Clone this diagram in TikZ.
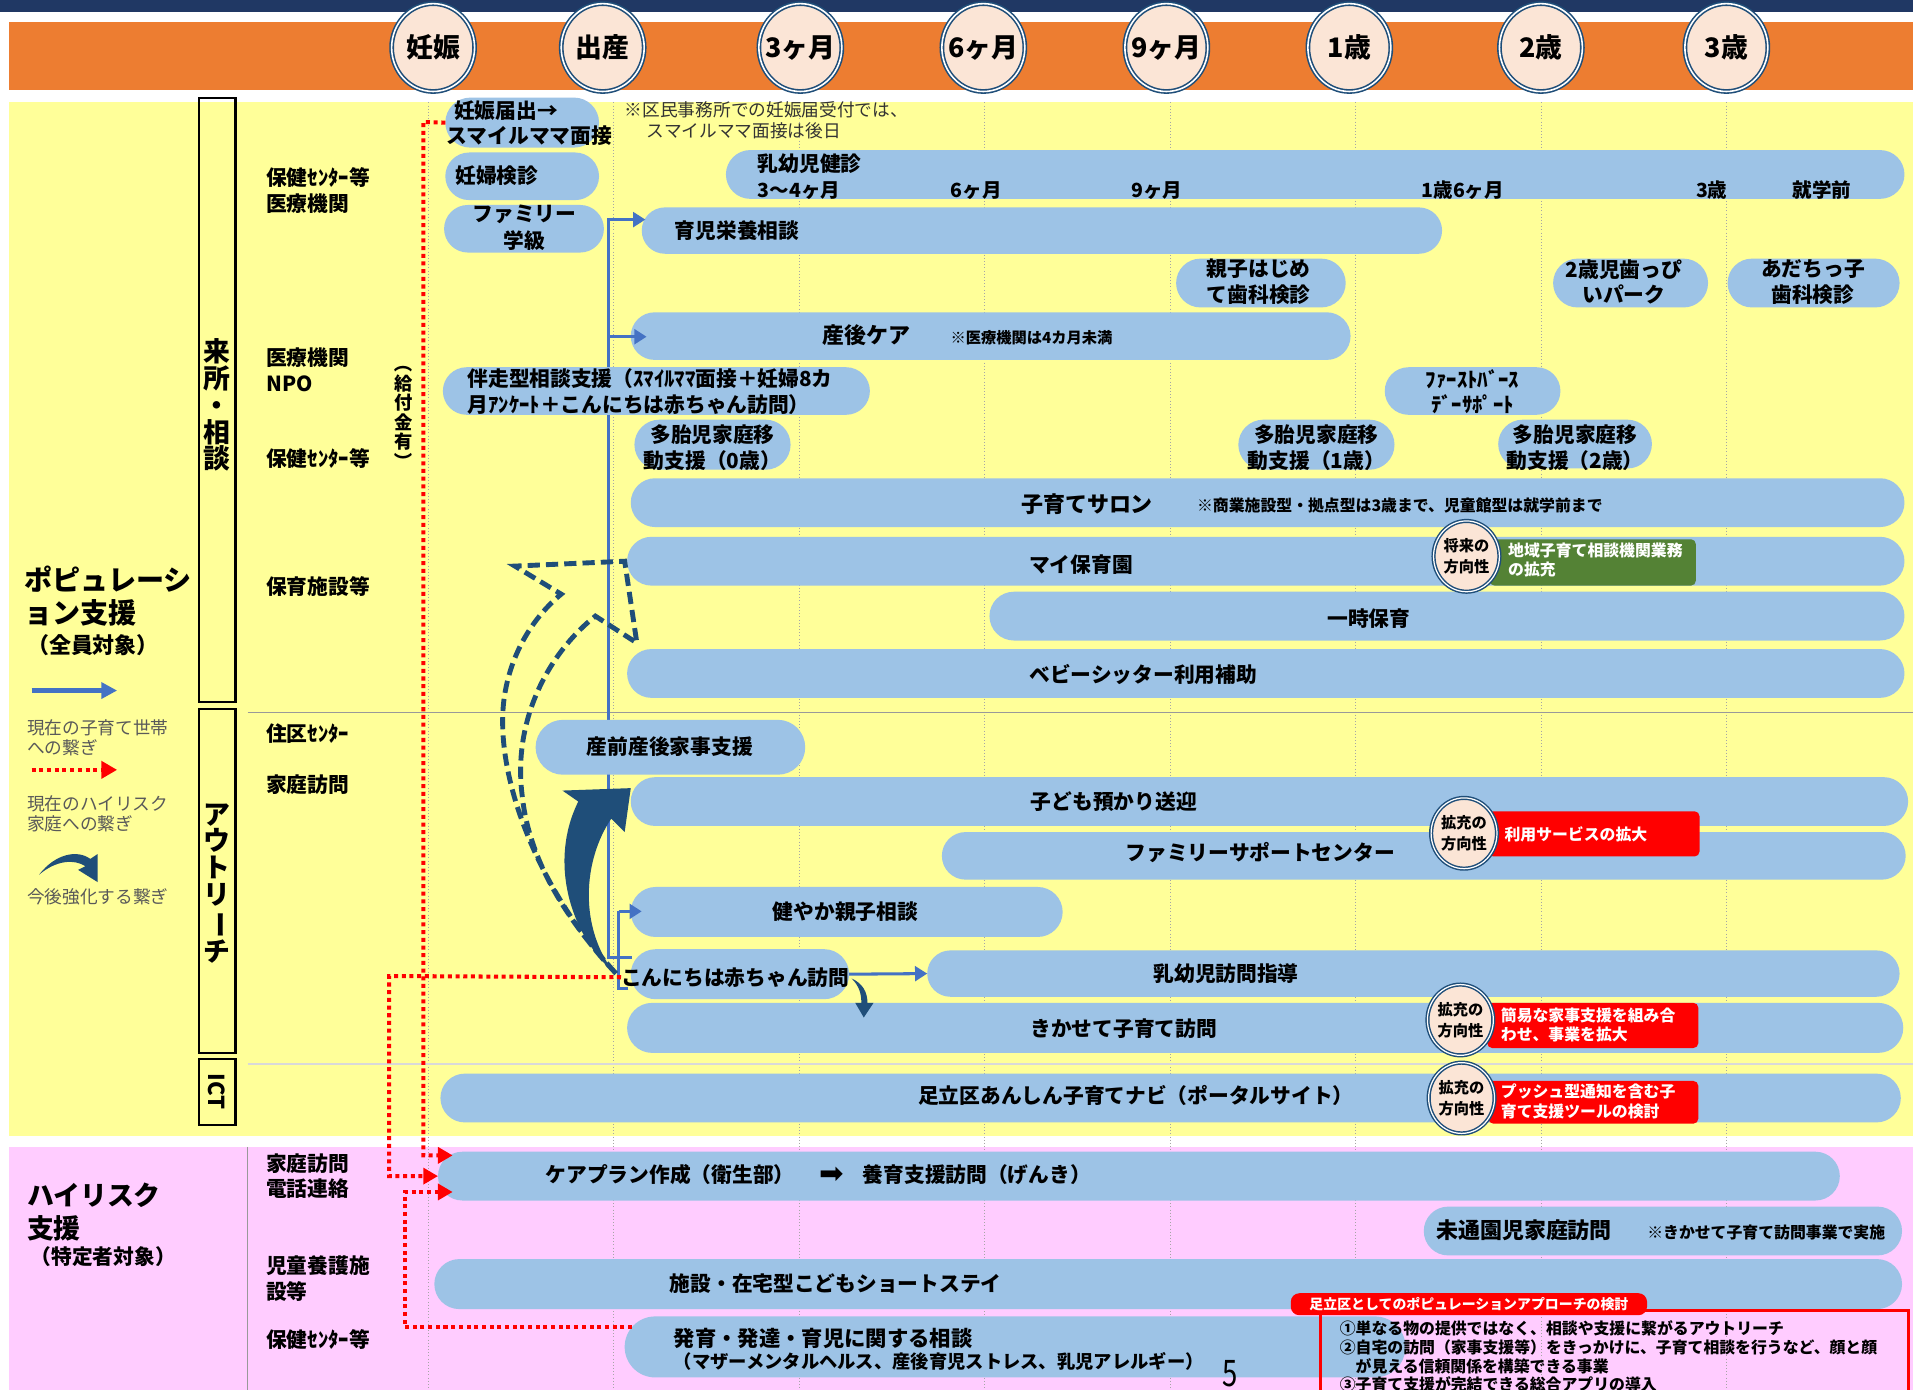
\documentclass[tikz,border=0pt]{standalone}
\usepackage{fontspec}
\usepackage{graphicx}
\setmainfont{Noto Sans CJK JP}
\newfontfamily\dejavu{DejaVu Sans}
\usetikzlibrary{arrows.meta,calc,shapes.geometric}
\definecolor{navybar}{HTML}{203864}
\definecolor{orng}{HTML}{ED7D31}
\definecolor{ylw}{HTML}{FFFF99}
\definecolor{pnk}{HTML}{FFCCFF}
\definecolor{pillc}{HTML}{9DC3E6}
\definecolor{peach}{HTML}{FBE5D6}
\definecolor{ringc}{HTML}{1F4E79}
\definecolor{bluel}{HTML}{4472C4}
\definecolor{grn}{HTML}{548235}
\definecolor{gridc}{HTML}{A6A6A6}
\definecolor{legtxt}{HTML}{595959}
\newcommand\myfs[1]{\fontsize{#1}{#1}\selectfont}
\newcommand\pillbox[5]{%
  \pgfmathsetmacro\pbx{(#2+#4)/2}%
  \pgfmathsetmacro\pby{(#3+#5)/2}%
  \pgfmathsetmacro\pbw{#4-#2}%
  \pgfmathsetmacro\pbh{#5-#3}%
  \pgfmathsetmacro\pbr{(#5-#3)/2}%
  \node[pill, minimum width=\pbw pt, minimum height=\pbh pt, rounded corners=\pbr pt] (#1) at (\pbx,\pby) {};}
\tikzset{
  pill/.style={fill=pillc, inner sep=0pt, outer sep=0pt},
  bt/.style={font=\bfseries\fontsize{17}{21}\selectfont, inner sep=0pt, align=left},
  btc/.style={bt, align=center},
  note/.style={font=\bfseries\fontsize{12.5}{15}\selectfont, inner sep=0pt},
  side/.style={font=\bfseries\fontsize{17}{21}\selectfont, inner sep=0pt, anchor=west, align=left},
  leg/.style={font=\fontsize{14.5}{16.5}\selectfont, text=legtxt, inner sep=0pt, anchor=west, align=left},
  hcirc/.style={ellipse, minimum width=68pt, minimum height=72pt, inner sep=0pt, fill=peach, draw=ringc, double=white, double distance=1.3pt, line width=1.3pt},
  htxt/.style={inner sep=0pt, font=\bfseries\myfs{22}},
  scirc/.style={ellipse, minimum width=54pt, minimum height=58pt, inner sep=0pt, fill=peach, draw=ringc, double=white, double distance=1pt, line width=1.2pt},
  sctxt/.style={inner sep=0pt, align=center, font=\bfseries\fontsize{12.5}{17}\selectfont},
  tag/.style={inner sep=0pt, rounded corners=4pt},
  tagtxt/.style={font=\bfseries\fontsize{13}{16}\selectfont, text=white, inner sep=0pt, anchor=west, align=left},
  catbox/.style={draw=black, line width=2pt, inner sep=0pt},
  reddot/.style={draw=red, line width=3.3pt, dash pattern=on 3.3pt off 3pt},
  redarr/.style={reddot, -{Triangle[length=12pt,width=13pt]}},
  bluearr/.style={draw=bluel, line width=2.5pt, -{Triangle[length=10pt,width=12pt]}},
  blueln/.style={draw=bluel, line width=2.5pt},
  gridl/.style={draw=gridc, line width=0.6pt, dotted},
}
\begin{document}
\begin{tikzpicture}[x=1pt,y=-1pt]
\useasboundingbox (0,0) rectangle (1568,1139);
\fill[white] (0,0) rectangle (1568,1139);
% bands
\fill[navybar] (0,0) rectangle (1568,10);
\fill[orng] (7,18) rectangle (1568,74);
\fill[ylw] (7,84) rectangle (1568,931);
\fill[pnk] (7,940) rectangle (1568,1139);
% grid
\foreach \gx in {351,503,655,807,959,1111,1263,1415} \draw[gridl] (\gx,84) -- (\gx,1139);
% separators
\draw[gray!80, line width=1pt] (203,584) -- (1568,584);
\draw[gray!30, line width=1.2pt] (203,872) -- (1568,872);
\draw[gray!80, line width=0.8pt] (203,940) -- (203,1139);

% header circles
\node[hcirc] (h1) at (355,39) {}; \node[htxt] (h1t) at (h1) {妊娠};
\node[hcirc] (h2) at (494,39) {}; \node[htxt] (h2t) at (h2) {出産};
\node[hcirc] (h3) at (656,39) {}; \node[htxt] (h3t) at (h3) {3ヶ月};
\node[hcirc] (h4) at (806,39) {}; \node[htxt] (h4t) at (h4) {6ヶ月};
\node[hcirc] (h5) at (956,39) {}; \node[htxt] (h5t) at (h5) {9ヶ月};
\node[hcirc] (h6) at (1106,39) {}; \node[htxt] (h6t) at (h6) {1歳};
\node[hcirc] (h7) at (1263,39) {}; \node[htxt] (h7t) at (h7) {2歳};
\node[hcirc] (h8) at (1415,39) {}; \node[htxt] (h8t) at (h8) {3歳};

% category boxes
\node[catbox, minimum width=30pt, minimum height=495pt] (cat1) at (178,328) {};
\node[catbox, minimum width=30pt, minimum height=282pt] (cat2) at (178,722) {};
\node[catbox, minimum width=30pt, minimum height=54pt] (cat3) at (178,895) {};
\node[inner sep=0pt, align=center, font=\bfseries\fontsize{22}{22}\selectfont] (cat1t) at (178,332) {来\\所\\・\\相\\談};
\node[inner sep=0pt, align=center, font=\bfseries\fontsize{22}{22}\selectfont] (cat2t) at (178,724) {ア\\ウ\\ト\\リ\\\rotatebox[origin=c]{-90}{ー}\\チ};
\node[rotate=-90, inner sep=0pt, font=\bfseries\myfs{18}] (cat3t) at (178,895) {ICT};

% left labels
\node[anchor=west, inner sep=0pt, font=\bfseries\myfs{23}] (pop1) at (20,475) {ポピュレーシ};
\node[anchor=west, inner sep=0pt, font=\bfseries\myfs{23}] (pop2) at (20,502) {ョン支援};
\node[anchor=west, inner sep=0pt, font=\bfseries\myfs{18}] (pop3) at (22,529) {（全員対象）};
\node[anchor=west, inner sep=0pt, font=\bfseries\myfs{22}] (hr1) at (22,980) {ハイリスク};
\node[anchor=west, inner sep=0pt, font=\bfseries\myfs{22}] (hr2) at (22,1007) {支援};
\node[anchor=west, inner sep=0pt, font=\bfseries\myfs{17}] (hr3) at (25,1030) {（特定者対象）};

% legend
\coordinate (lb1) at (26,566); \coordinate (lb2) at (96,566);
\draw[draw=bluel, line width=3.5pt, -{Triangle[length=13pt,width=13pt]}] (lb1) -- (lb2);
\node[leg] (lt1) at (22,605) {現在の子育て世帯\\への繋ぎ};
\coordinate (lr1) at (26,631); \coordinate (lr2) at (96,631);
\draw[reddot, -{Triangle[length=13pt,width=14pt]}] (lr1) -- (lr2);
\node[leg] (lt2) at (22,667) {現在のハイリスク\\家庭への繋ぎ};
\fill[ringc] (32,717) .. controls (45,700) and (63,696) .. (74,704) -- (80,700) -- (80,723) -- (64,713) -- (70,710) .. controls (61,704) and (46,705) .. (32,717) -- cycle;
\node[leg] (lt3) at (22,735) {今後強化する繋ぎ};

% sub labels
\node[side] (s01) at (218,156) {保健ｾﾝﾀｰ等\\医療機関};
\node[side] (s02) at (218,303) {医療機関\\NPO};
\node[side] (s03) at (218,376) {保健ｾﾝﾀｰ等};
\node[side] (s04) at (218,481) {保育施設等};
\node[side] (s05) at (218,601) {住区ｾﾝﾀｰ};
\node[side] (s06) at (218,643) {家庭訪問};
\node[side] (s07) at (218,964) {家庭訪問\\電話連絡};
\node[side] (s08) at (218,1048) {児童養護施\\設等};
\node[side] (s09) at (218,1098) {保健ｾﾝﾀｰ等};
\node[inner sep=0pt, align=center, font=\bfseries\fontsize{15}{16}\selectfont] (kyufu) at (331,338) {\rotatebox[origin=c]{-90}{（}\\給\\付\\金\\有\\\rotatebox[origin=c]{-90}{）}};

% blue trunk (behind boxes)
\coordinate (bv_top) at (499,180);
\coordinate (bv_top0) at (499,178.75);
\coordinate (bv_mid) at (499,276);
\coordinate (bv_bot) at (499,785);
\coordinate (konn_in) at (518,785);
\draw[blueln] (bv_top0) -- (bv_bot) -- (konn_in);

% pills
\pillbox{todoke}{365}{80}{491}{121}
\pillbox{ninpu}{365}{125}{491}{164}
\pillbox{famgk}{364}{168}{495}{207}
\pillbox{kenshin}{595}{123}{1561}{163}
\pillbox{ikuji}{526}{170}{1182}{208}
\pillbox{oyako}{964}{212}{1103}{252}
\pillbox{happy}{1273}{212}{1400}{252}
\pillbox{adachi}{1416}{212}{1557}{252}
\pillbox{sango}{517}{256}{1107}{295}
\pillbox{bansou}{363}{301}{713}{340}
\pillbox{fbd}{1135}{301}{1279}{340}
\pillbox{tatai0}{520}{344}{648}{385}
\pillbox{tatai1}{1015}{344}{1143}{385}
\pillbox{tatai2}{1228}{344}{1354}{384}
\pillbox{salon}{517}{392}{1561}{432}
\pillbox{mai}{514}{440}{1561}{480}
\pillbox{ichiji}{811}{485}{1561}{525}
\pillbox{baby}{514}{532}{1561}{572}
\pillbox{kaji}{439}{590}{660}{635}
\pillbox{azukari}{517}{637}{1564}{677}
\pillbox{famsup}{772}{682}{1562}{721}
\pillbox{sukoyaka}{517}{727}{871}{768}
\pillbox{konn}{517}{778}{696}{819}
\pillbox{nyuhou}{760}{779}{1557}{817}
\pillbox{kika}{514}{822}{1560}{863}
\pillbox{navi}{361}{880}{1558}{920}
\pillbox{care}{359}{944}{1508}{984}
\pillbox{mitsu}{1167}{989}{1559}{1029}
\pillbox{short}{356}{1032}{1559}{1073}
\pillbox{hatsu}{512}{1079}{1152}{1129}

% pill texts
\node[bt, anchor=west] (todoke_t) at (366,101) {\hspace*{6pt}妊娠届出→\\スマイルママ面接};
\node[bt, anchor=west] (ninpu_t) at (373,144) {妊婦検診};
\node[btc, font=\bfseries\fontsize{17}{22}\selectfont] (famgk_t) at (430,187) {ファミリー\\学級};
\node[bt, anchor=west] (kenshin_t) at (621,134) {乳幼児健診};
\node[bt, anchor=west, font=\bfseries\myfs{16}] (k1) at (621,156) {3〜4ヶ月};
\node[bt, anchor=west, font=\bfseries\myfs{16}] (k2) at (779,156) {6ヶ月};
\node[bt, anchor=west, font=\bfseries\myfs{16}] (k3) at (927,156) {9ヶ月};
\node[bt, anchor=west, font=\bfseries\myfs{16}] (k4) at (1165,156) {1歳6ヶ月};
\node[bt, anchor=west, font=\bfseries\myfs{16}] (k5) at (1390,156) {3歳};
\node[bt, anchor=west, font=\bfseries\myfs{16}] (k6) at (1469,156) {就学前};
\node[bt, anchor=west] (ikuji_t) at (553,189) {育児栄養相談};
\node[bt, anchor=west] (oyako_t) at (989,231) {親子はじめ\\て歯科検診};
\node[btc] (happy_t) at (1331,231) {2歳児歯っぴ\\いパーク};
\node[btc] (adachi_t) at (1486,231) {あだちっ子\\歯科検診};
\node[btc, font=\bfseries\myfs{18}] (sango_t) at (710,275) {産後ケア};
\node[note, anchor=west] (sango_n) at (779,277) {※医療機関は4カ月未満};
\node[bt, anchor=west] (bansou_t) at (383,321) {伴走型相談支援（ｽﾏｲﾙﾏﾏ面接＋妊婦8カ\\月ｱﾝｹｰﾄ＋こんにちは赤ちゃん訪問）};
\node[btc] (fbd_t) at (1207,321) {ﾌｧｰｽﾄﾊﾞｰｽ\\ﾃﾞｰｻﾎﾟｰﾄ};
\node[btc] (tatai0_t) at (584,367) {多胎児家庭移\\動支援（0歳）};
\node[btc] (tatai1_t) at (1079,367) {多胎児家庭移\\動支援（1歳）};
\node[btc] (tatai2_t) at (1291,367) {多胎児家庭移\\動支援（2歳）};
\node[btc, font=\bfseries\myfs{18}] (salon_t) at (891,413) {子育てサロン};
\node[note, anchor=west, font=\bfseries\myfs{13}] (salon_n) at (981,414) {※商業施設型・拠点型は3歳まで、児童館型は就学前まで};
\node[btc] (mai_t) at (886,463) {マイ保育園};
\node[btc] (ichiji_t) at (1122,507) {一時保育};
\node[btc] (baby_t) at (937,553) {ベビーシッター利用補助};
\node[btc] (kaji_t) at (549,612) {産前産後家事支援};
\node[btc] (azukari_t) at (913,657) {子ども預かり送迎};
\node[btc] (famsup_t) at (1033,699) {ファミリーサポートセンター};
\node[btc] (sukoyaka_t) at (693,747) {健やか親子相談};
\node[bt, anchor=west] (konn_t) at (509,801) {こんにちは赤ちゃん訪問};
\node[btc] (nyuhou_t) at (1005,798) {乳幼児訪問指導};
\node[btc] (kika_t) at (921,843) {きかせて子育て訪問};
\node[btc] (navi_t) at (931,898) {足立区あんしん子育てナビ（ポータルサイト）};
\node[bt, anchor=west] (care_t1) at (447,963) {ケアプラン作成（衛生部）};
\node[inner sep=0pt, font=\dejavu\myfs{24}] (care_ar) at (682,963) {➡};
\node[bt, anchor=west] (care_t2) at (707,963) {養育支援訪問（げんき）};
\node[bt, anchor=west, font=\bfseries\myfs{18}] (mitsu_t) at (1177,1008) {未通園児家庭訪問};
\node[note, anchor=west, font=\bfseries\myfs{13}] (mitsu_n) at (1350,1010) {※きかせて子育て訪問事業で実施};
\node[btc] (short_t) at (685,1052) {施設・在宅型こどもショートステイ};
\node[bt, anchor=west, font=\bfseries\myfs{17.5}] (hatsu_t1) at (552,1097) {発育・発達・育児に関する相談};
\node[bt, anchor=west, font=\bfseries\myfs{15}] (hatsu_t2) at (552,1116) {（マザーメンタルヘルス、産後育児ストレス、乳児アレルギー）};

% top note
\node[anchor=west, inner sep=0pt, font=\myfs{14.5}, text=black!80] (note1) at (512,90) {※区民事務所での妊娠届受付では、};
\node[anchor=west, inner sep=0pt, font=\myfs{14.5}, text=black!80] (note2) at (530,107) {スマイルママ面接は後日};

% tags and small circles
\node[tag, fill=grn, minimum width=169pt, minimum height=38pt] (g1) at (1305.5,461) {};
\node[tagtxt] (g1t) at (1236,459) {地域子育て相談機関業務\\の拡充};
\node[scirc] (c1) at (1202,456) {}; \node[sctxt] (c1t) at (c1) {将来の\\方向性};

\node[tag, fill=red, minimum width=173pt, minimum height=37pt] (r1) at (1306.5,683.5) {};
\node[tagtxt] (r1t) at (1233,684) {利用サービスの拡大};
\node[scirc] (c2) at (1200,683) {}; \node[sctxt] (c2t) at (c2) {拡充の\\方向性};

\node[tag, fill=red, minimum width=173pt, minimum height=37pt] (r2) at (1305.5,840.5) {};
\node[tagtxt] (r2t) at (1230,840) {簡易な家事支援を組み合\\わせ、事業を拡大};
\node[scirc] (c3) at (1197,836) {}; \node[sctxt] (c3t) at (c3) {拡充の\\方向性};

\node[tag, fill=red, minimum width=172pt, minimum height=35pt] (r3) at (1306,903.5) {};
\node[tagtxt] (r3t) at (1230,903) {プッシュ型通知を含む子\\育て支援ツールの検討};
\node[scirc] (c4) at (1198,900) {}; \node[sctxt] (c4t) at (c4) {拡充の\\方向性};

% blue connectors
\coordinate (ikuji_in) at (529,180);
\coordinate (sango_in) at (530,276);
\coordinate (bk_tick) at (515,810);
\coordinate (bk_low) at (507,810);
\coordinate (bk_up) at (507,747);
\coordinate (suk_in) at (526,747);
\draw[bluearr] (bv_top) -- (ikuji_in);
\draw[bluearr] (bv_mid) -- (sango_in);
\draw[blueln] (bk_tick) -- (bk_low) -- (bk_up);
\draw[bluearr] (bk_up) -- (suk_in);
\draw[bluearr] (konn.east) -- (nyuhou.west);

% big dashed curved arrow
\draw[ringc, line width=4pt, dash pattern=on 10pt off 5pt, line join=miter]
  (505,798) .. controls (445,735) and (405,640) .. (413,574)
  .. controls (418,535) and (438,505) .. (460,487)
  -- (422,464) -- (512,460) -- (522,527) -- (488,505)
  .. controls (450,535) and (420,590) .. (428,652)
  .. controls (434,710) and (470,760) .. (505,798) -- cycle;
% solid curved arrow
\fill[ringc] (504,798) .. controls (466,765) and (450,705) .. (474,657) -- (461,648) -- (517,646) -- (512,682) -- (501,671) .. controls (478,705) and (474,760) .. (504,798) -- cycle;
% small curved arrow
\fill[ringc] (698,802) .. controls (707,806) and (711,813) .. (711,822) -- (716,822) -- (708,834) -- (701,822) -- (706,822) .. controls (706,814) and (704,808) .. (698,802) -- cycle;

% red dotted connectors
\coordinate (r1a) at (347,100);
\coordinate (r1b) at (347,947);
\coordinate (care_in1) at (371,947);
\draw[redarr] (todoke.west) -- (r1a) -- (r1b) -- (care_in1);
\coordinate (r2a) at (319,800);
\coordinate (r2b) at (319,964);
\draw[redarr] (konn_t.west) -- (r2a) -- (r2b) -- (care.west);
\coordinate (r3s) at (518,1088);
\coordinate (r3a) at (332,1088);
\coordinate (r3b) at (332,977);
\coordinate (care_in3) at (371,977);
\draw[redarr] (r3s) -- (r3a) -- (r3b) -- (care_in3);

% bottom callout
\node[draw=red, line width=2.5pt, minimum width=482pt, minimum height=76pt, inner sep=0pt] (cbox) at (1323,1112) {};
\node[fill=red, rounded corners=7pt, minimum width=292pt, minimum height=18pt, inner sep=0pt, text=white, font=\bfseries\myfs{11.4}] (clab) at (1204,1069) {足立区としてのポピュレーションアプローチの検討};
\node[anchor=north west, inner sep=0pt, align=left, font=\bfseries\fontsize{13}{15.5}\selectfont] (ctxt) at (1098,1082) {①単なる物の提供ではなく、相談や支援に繋がるアウトリーチ\\②自宅の訪問（家事支援等）をきっかけに、子育て相談を行うなど、顔と顔\\　が見える信頼関係を構築できる事業\\③子育て支援が完結できる総合アプリの導入};

% page number
\node[inner sep=0pt, font=\myfs{30}, xscale=0.75] (pg) at (1008,1126) {5};
\end{tikzpicture}
\end{document}
